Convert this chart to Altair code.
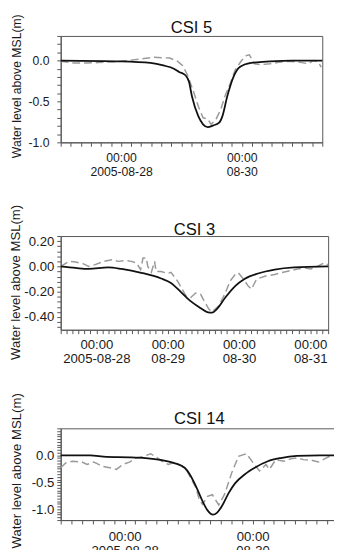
import altair as alt
import pandas as pd
import numpy as np
from datetime import datetime, timedelta

FONT = "Liberation Sans"
BASE = datetime(2005, 8, 27, 0, 0)
Y_TITLE = "Water level above MSL(m)"

# ---------------- data (hours since 2005-08-27 00:00, water level in m) -------------
# CSI 5
csi5_model_h = [0, 24, 35.7, 40.8, 45, 47.1, 49.6, 51, 52.2, 54.7, 56.6, 58.5, 60.5, 63,
                64.3, 66.2, 68.7, 71.2, 75.7, 83.3, 92, 104]
csi5_model_v = [0.0, -0.01, -0.03, -0.06, -0.10, -0.14, -0.18, -0.26, -0.44, -0.68, -0.78,
                -0.815, -0.795, -0.76, -0.68, -0.44, -0.20, -0.08, -0.03, -0.01, 0.0, 0.0]
csi5_obs_h = [0, 5, 10, 15, 24, 31.9, 37, 43.3, 46.5, 48.4, 50.3, 52.8, 54.7, 56.6, 58.5,
              59.8, 61.7, 63.6, 65.5, 67.4, 69.3, 71.9, 73.8, 75, 77, 79.5, 83.3, 87.1, 90.9,
              94.7, 98.5, 100.4, 102.4, 103.6]
csi5_obs_v = [-0.01, -0.03, -0.03, -0.025, -0.01, 0.02, 0.04, 0.03, -0.01, -0.06, -0.17,
              -0.38, -0.56, -0.70, -0.715, -0.78, -0.72, -0.60, -0.42, -0.28, -0.12, 0.0,
              0.06, 0.07, -0.04, -0.05, -0.04, -0.02, -0.01, -0.02, -0.04, 0.0, -0.02, -0.08]

# CSI 3
csi3_model_h = [12, 17, 21.4, 28, 32.5, 39.1, 45.8, 49.1, 52.4, 55.5, 58.5, 61.3, 62.9,
                64.6, 67.4, 70.7, 74, 78.4, 84, 90.6, 102]
csi3_model_v = [0.0, -0.012, -0.02, -0.008, -0.02, -0.05, -0.095, -0.13, -0.20, -0.27,
                -0.32, -0.36, -0.365, -0.335, -0.245, -0.155, -0.097, -0.056, -0.025,
                -0.008, 0.0]
csi3_obs_h = [12, 14.8, 17, 19.7, 21.4, 23.6, 26.4, 29.2, 31.4, 33.6, 35.8, 37.5, 38.9,
              39.7, 40.8, 41.3, 42.5, 43.6, 44.1, 45.8, 48, 49.1, 51.3, 54.1, 55.8, 57.4,
              59.1, 60.2, 61.8, 62.9, 65.2, 67.4, 69, 70.7, 71.8, 73.5, 75.1, 76.2, 77.9,
              80.7, 84, 86.2, 88.4, 91.7, 94, 96.2, 98.4, 100.6, 102]
csi3_obs_v = [0.0, 0.04, 0.035, 0.02, 0.0, 0.014, 0.04, 0.053, 0.04, 0.047, 0.04, 0.027,
              -0.025, 0.066, 0.066, 0.0, -0.046, 0.04, -0.04, -0.04, -0.056, -0.046, -0.115,
              -0.23, -0.245, -0.21, -0.22, -0.27, -0.335, -0.36, -0.31, -0.21, -0.115,
              -0.064, -0.05, -0.10, -0.155, -0.18, -0.10, -0.077, -0.064, -0.05, -0.038,
              -0.02, -0.012, -0.02, 0.0, 0.027, 0.014]

# CSI 14
csi14_model_h = [0, 11, 17.2, 25.8, 31.9, 38, 42.9, 46.5, 48.4, 50.8, 53.2, 55.1, 57.1,
                 58.7, 60.5, 63, 65.4, 69.1, 72.8, 77.7, 82.5, 88.6, 97.2, 104]
csi14_model_v = [0.0, 0.0, -0.03, -0.036, -0.05, -0.09, -0.15, -0.23, -0.35, -0.58, -0.85,
                 -1.02, -1.10, -1.06, -0.94, -0.70, -0.52, -0.35, -0.23, -0.11, -0.05,
                 -0.01, 0.0, 0.0]
csi14_obs_h = [0, 1.9, 4.4, 8, 9.9, 12.3, 13.5, 15.4, 18.4, 20.9, 23.3, 25.8, 28.2, 31.2,
               33.7, 35.5, 38, 40.4, 42.9, 45.3, 47.1, 49, 50.8, 52, 53.2, 55.1, 56.9, 59.3,
               61.5, 64.2, 66.7, 69.7, 72.2, 74.6, 77, 78.3, 80.7, 83.8, 86.2, 88.6, 91.1,
               94.1, 96.6, 99, 102]
csi14_obs_v = [-0.23, -0.14, -0.11, -0.125, -0.17, -0.125, -0.15, -0.2, -0.23, -0.26,
               -0.17, -0.125, -0.05, -0.02, 0.03, -0.02, -0.11, -0.17, -0.125, -0.2, -0.26,
               -0.44, -0.61, -0.82, -0.91, -0.76, -0.73, -0.92, -0.72, -0.32, -0.02, 0.03,
               -0.14, -0.29, -0.17, -0.26, -0.08, -0.11, -0.066, -0.05, -0.08, -0.09,
               -0.125, -0.066, 0.01]

# tick labels
x_labels_a = [("2005-08-28 00:00", "00:00", "2005-08-28"), ("2005-08-30 00:00", "00:00", "08-30")]
x_labels_b = [("2005-08-28 00:00", "00:00", "2005-08-28"), ("2005-08-29 00:00", "00:00", "08-29"),
              ("2005-08-30 00:00", "00:00", "08-30"), ("2005-08-31 00:00", "00:00", "08-31")]
y_labels_a = [(0.0, "0.0"), (-0.5, "-0.5"), (-1.0, "-1.0")]
y_labels_b = [(0.2, "0.20"), (0.0, "0.00"), (-0.2, "-0.20"), (-0.4, "-0.40")]


def iso(hours):
    t = BASE + timedelta(minutes=round(hours * 60))
    return t.strftime("%Y-%m-%dT%H:%M:00")


def frame(h, v):
    return pd.DataFrame({"time": [iso(x) for x in h], "level": v})


def dt(hours):
    t = BASE + timedelta(minutes=round(hours * 60))
    return alt.DateTime(year=t.year, month=t.month, date=t.day, hours=t.hour, minutes=t.minute)


TF = "timeFormat(datum.value, '%Y-%m-%d %H:%M')"


def x_label_expr(labels):
    expr = "''"
    for key, l1, l2 in reversed(labels):
        expr = f"({TF} == '{key}') ? ['{l1}', '{l2}'] : ({expr})"
    return expr


def y_label_expr(labels):
    expr = "''"
    for v, t in reversed(labels):
        expr = f"(abs(datum.value - ({v})) < 0.001) ? '{t}' : ({expr})"
    return expr


def spacer(y_px, width):
    # invisible tiny text that fixes how far the panel's layout box reaches
    return alt.Chart(pd.DataFrame({"s": ["."]})).mark_text(
        fontSize=1, opacity=0, baseline="middle"
    ).encode(text="s:N", x=alt.value(width / 2), y=alt.value(y_px))


def panel(title, mh, mv, oh, ov, x0, x1, xstep, xlabels, ydom, ystep, ylabels,
          width, height, lab_fs, ytitle_fs, title_pad, ylab_pad, title_shift,
          x_lh, x_lpad, t_off, top_ext=None, bottom_ext=None):
    model = frame(mh, mv)
    obs = frame(oh, ov)
    k0 = int(np.ceil(ydom[0] / ystep - 1e-9))
    k1 = int(np.floor(ydom[1] / ystep + 1e-9))
    yticks = [float(round(k * ystep, 2)) for k in range(k0, k1 + 1)]
    xticks = [dt(h) for h in range(int(np.ceil(x0 / xstep) * xstep), int(x1) + 1, xstep)]
    x = alt.X(
        "time:T", title=None,
        scale=alt.Scale(domain=[dt(x0), dt(x1)]),
        axis=alt.Axis(
            values=xticks,
            labelExpr=x_label_expr(xlabels),
            tickSize=4,
            labelOverlap=False, labelFlush=False, labelAngle=0, labelAlign="center",
            labelBaseline="top", labelFontSize=lab_fs, labelLineHeight=x_lh,
            labelPadding=x_lpad, grid=False,
        ),
    )
    y = alt.Y(
        "level:Q", title=Y_TITLE,
        scale=alt.Scale(domain=ydom, nice=False, zero=False),
        axis=alt.Axis(
            values=yticks,
            labelExpr=y_label_expr(ylabels),
            tickSize=4,
            labelOverlap=False, labelFlush=False, labelFontSize=lab_fs,
            labelPadding=ylab_pad,
            titleFontSize=ytitle_fs, titleFontWeight="normal", titlePadding=title_pad,
            titleY=height / 2 + title_shift,
            grid=False,
        ),
    )
    obs_line = alt.Chart(obs).mark_line(color="#9a9a9a", strokeWidth=1.5,
                                        strokeDash=[8, 4]).encode(x=x, y=y)
    model_line = alt.Chart(model).mark_line(color="#111111", strokeWidth=1.8,
                                            interpolate="monotone").encode(x=x, y=y)
    head = alt.Chart(pd.DataFrame({"name": [title]})).mark_text(
        fontSize=17, font=FONT, color="#111111", align="center", baseline="alphabetic"
    ).encode(text="name:N", x=alt.value(width / 2), y=alt.value(-t_off))
    layers = [obs_line, model_line, head]
    if top_ext is not None:
        layers.append(spacer(-top_ext, width))
    if bottom_ext is not None:
        layers.append(spacer(height + bottom_ext, width))
    return alt.layer(*layers).properties(width=width, height=height)


p1 = panel("CSI 5", csi5_model_h, csi5_model_v, csi5_obs_h, csi5_obs_v, 0, 104, 4,
           x_labels_a, [-1.0, 0.3], 0.1, y_labels_a, 268, 109,
           12.5, 12.5, 5, 8, -3.5, 13.5, 6, 3.3, bottom_ext=47)
p2 = panel("CSI 3", csi3_model_h, csi3_model_v, csi3_obs_h, csi3_obs_v, 12, 102, 2,
           x_labels_b, [-0.5, 0.24], 0.04, y_labels_b, 274, 96,
           13.5, 13.5, 1, 3, -1, 14.5, 4, 1.4, top_ext=45.7, bottom_ext=49)
p3 = panel("CSI 14", csi14_model_h, csi14_model_v, csi14_obs_h, csi14_obs_v, 0, 104, 4,
           x_labels_a, [-1.2, 0.5], 0.05, y_labels_a, 284, 94,
           13.5, 13.5, 8, 3, -4, 14.5, 6, 4.3, top_ext=49.3)

PAD_L, PAD_T = 54, 22
SVG_W, SVG_H = 334, 542

chart = alt.vconcat(p1, p2, p3, spacing=0).properties(
    autosize=alt.AutoSizeParams(type="none"),
    padding={"left": PAD_L, "top": PAD_T, "right": SVG_W - PAD_L, "bottom": SVG_H - PAD_T},
).configure(
    font=FONT,
).configure_view(
    stroke="#555555", strokeWidth=1,
).configure_axis(
    domainColor="#555555", tickColor="#555555", labelColor="#1a1a1a",
    titleColor="#1a1a1a", labelFont=FONT, titleFont=FONT,
)

chart.save("out.html", embed_options={"renderer": "svg", "actions": False})
